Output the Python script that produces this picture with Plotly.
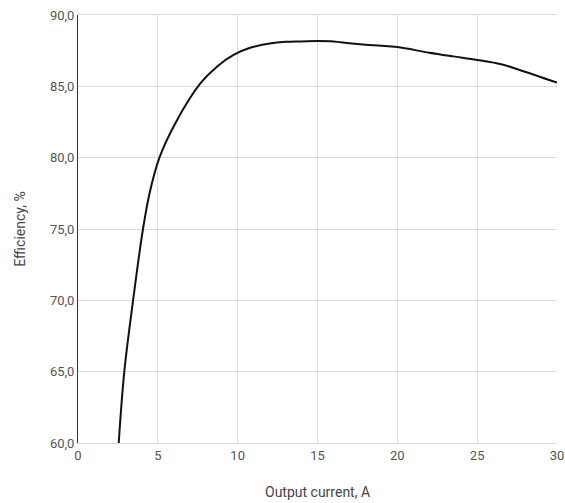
import plotly.graph_objects as go

current_a = [2.55, 2.9, 3.45, 4.07, 4.5, 5.1, 6.09, 7.66, 8.7, 9.74, 10.78,
             12.0, 13.0, 14.0, 15.0, 16.0, 17.0, 18.0, 19.0, 20.0, 22.0, 23.5, 25.0,
             26.5, 27.66, 30.0]
efficiency_pct = [60.0, 65.0, 70.0, 75.0, 77.6, 80.0, 82.4, 85.2, 86.38, 87.2, 87.7,
                  88.0, 88.12, 88.15, 88.18, 88.15, 88.02, 87.92, 87.85, 87.75, 87.36, 87.1, 86.85,
                  86.55, 86.15, 85.26]
x_ticks = [0, 5, 10, 15, 20, 25, 30]
y_ticks = [60, 65, 70, 75, 80, 85, 90]

fig = go.Figure()
fig.add_trace(go.Scatter(
    x=current_a, y=efficiency_pct, mode="lines",
    line=dict(color="#111111", width=2, shape="spline", smoothing=1.0),
    showlegend=False, hoverinfo="skip", cliponaxis=True,
))

fig.update_layout(
    width=565, height=503,
    margin=dict(l=77.5, r=8, t=15, b=60, autoexpand=False),
    paper_bgcolor="white", plot_bgcolor="white",
    separators=", ",
    font=dict(family="Roboto, Arial, sans-serif", size=13, color="#555555"),
    xaxis=dict(
        range=[0, 30], tickvals=x_ticks, showgrid=True, gridcolor="#dcdcdc", gridwidth=1,
        zeroline=False, showline=True, mirror=True, linecolor="#dcdcdc", linewidth=1,
        ticks="", automargin=False, ticklabeloverflow="allow",
        tickfont=dict(size=13, color="#555555"),
    ),
    yaxis=dict(
        range=[60, 90], tickvals=y_ticks, tickformat=".1f", showgrid=True, gridcolor="#dcdcdc",
        gridwidth=1, zeroline=False, showline=True, linecolor="#333333", linewidth=1,
        ticks="", automargin=False, ticklabeloverflow="allow",
        tickfont=dict(size=13, color="#555555"),
    ),
    annotations=[
        dict(text="Output current, A", xref="paper", yref="paper", x=0.5, y=-0.1138,
             xanchor="center", yanchor="middle", showarrow=False,
             font=dict(size=14, color="#444444")),
        dict(text="Efficiency, %", xref="paper", yref="paper", x=-0.1214, y=0.5,
             xanchor="center", yanchor="middle", showarrow=False, textangle=-90,
             font=dict(size=14, color="#444444")),
    ],
)

fig.write_html(
    "out.html",
    config={"displayModeBar": False, "staticPlot": True},
    post_script="document.body.style.margin='0';document.body.style.overflow='hidden';",
)
